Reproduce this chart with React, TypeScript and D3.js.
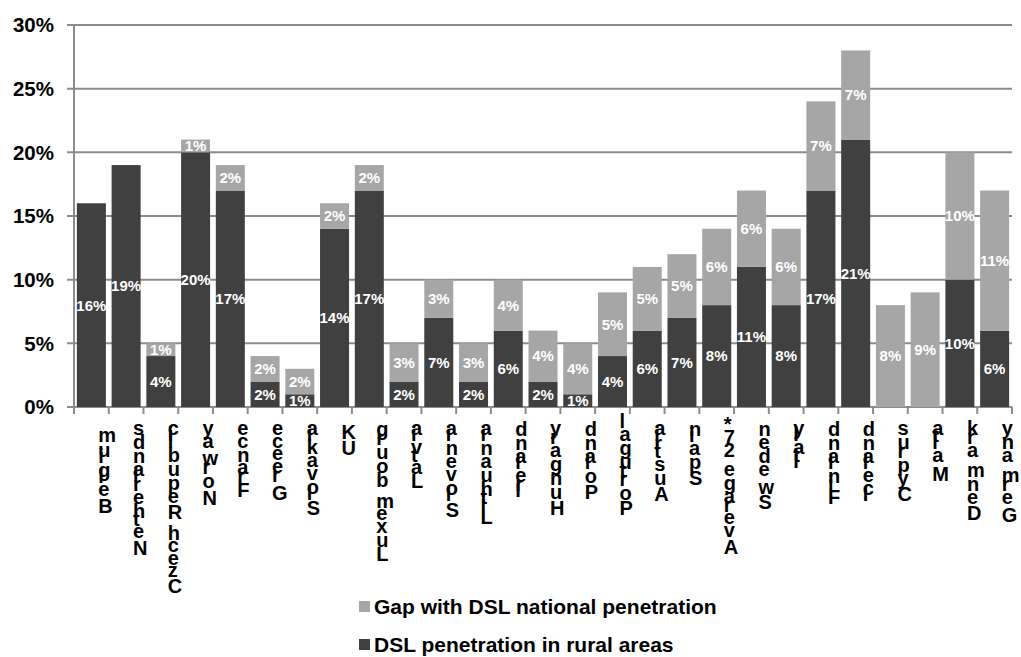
import React, { useEffect, useRef } from 'react';
import * as d3 from 'd3';

// Chart data
const countries = [
  'Belgium', 'Netherlands', 'Czech Republic', 'Norway', 'France', 'Greece', 'Slovakia',
  'UK', 'Luxembourg', 'Latvia', 'Slovenia', 'Lithuania', 'Ireland', 'Hungary', 'Poland',
  'Portugal', 'Austria', 'Spain', 'Average 27*', 'Sweden', 'Italy', 'Finland', 'Iceland',
  'Cyprus', 'Malta', 'Denmark', 'Germany',
];
const ruralPenetration = [16, 19, 4, 20, 17, 2, 1, 14, 17, 2, 7, 2, 6, 2, 1, 4, 6, 7, 8, 11, 8, 17, 21, 0, 0, 10, 6];
const nationalGap = [0, 0, 1, 1, 2, 2, 2, 2, 2, 3, 3, 3, 4, 4, 4, 5, 5, 5, 6, 6, 6, 7, 7, 8, 9, 10, 11];
const yTicks = [0, 5, 10, 15, 20, 25, 30];
const seriesNames = ['Gap with DSL national penetration', 'DSL penetration in rural areas'];

const FONT = "Arial, 'Liberation Sans', Helvetica, sans-serif";
const DARK = '#404040';
const LIGHT = '#a6a6a6';
const GRID = '#8c8c8c';

const App: React.FC = () => {
  const svgRef = useRef<SVGSVGElement>(null);

  useEffect(() => {
    if (!svgRef.current) return;
    const svg = d3.select(svgRef.current);
    svg.selectAll('*').remove();

    const width = 1021;
    const height = 657;
    const left = 74, right = 1012, top = 25, bottom = 407;

    svg.attr('width', width).attr('height', height);
    svg.append('rect').attr('width', width).attr('height', height).style('fill', '#fff');

    const x = d3.scaleBand<string>()
      .domain(countries)
      .range([left, right])
      .paddingInner(0.165)
      .paddingOuter(0.0825);

    const y = d3.scaleLinear().domain([0, 30]).range([bottom, top]);

    // gridlines + y tick marks
    svg.append('g')
      .selectAll('line')
      .data(yTicks)
      .enter().append('line')
      .attr('x1', left - 7)
      .attr('x2', right)
      .attr('y1', d => y(d))
      .attr('y2', d => y(d))
      .style('stroke', GRID)
      .style('stroke-width', 2);

    // y tick labels
    svg.append('g')
      .selectAll('text')
      .data(yTicks)
      .enter().append('text')
      .attr('x', 54)
      .attr('y', d => y(d))
      .attr('dy', '0.36em')
      .attr('text-anchor', 'end')
      .style('font-family', FONT)
      .style('font-size', '20.5px')
      .style('font-weight', 'bold')
      .style('fill', '#000')
      .text(d => `${d}%`);

    // stacked bars
    const rows = countries.map((name, i) => ({
      name,
      rural: ruralPenetration[i],
      gap: nationalGap[i],
    }));

    const segs = rows.flatMap(r => [
      { name: r.name, y0: 0, y1: r.rural, v: r.rural, color: DARK },
      { name: r.name, y0: r.rural, y1: r.rural + r.gap, v: r.gap, color: LIGHT },
    ]).filter(s => s.v > 0);

    const bars = svg.append('g');
    bars.selectAll('rect')
      .data(segs)
      .enter().append('rect')
      .attr('x', d => x(d.name)!)
      .attr('width', x.bandwidth())
      .attr('y', d => y(d.y1))
      .attr('height', d => y(d.y0) - y(d.y1))
      .style('fill', d => d.color);

    bars.selectAll('text')
      .data(segs)
      .enter().append('text')
      .attr('x', d => x(d.name)! + x.bandwidth() / 2)
      .attr('y', d => y((d.y0 + d.y1) / 2))
      .attr('dy', '0.36em')
      .attr('text-anchor', 'middle')
      .style('font-family', FONT)
      .style('font-size', '15px')
      .style('font-weight', 'bold')
      .style('fill', '#fff')
      .text(d => `${d.v}%`);

    // y axis line
    svg.append('line')
      .attr('x1', left).attr('x2', left)
      .attr('y1', top).attr('y2', bottom + 7)
      .style('stroke', GRID)
      .style('stroke-width', 2);

    // x tick marks at band boundaries
    const step = x.step();
    const boundaries = d3.range(countries.length + 1).map(i => left + i * step);
    svg.append('g')
      .selectAll('line')
      .data(boundaries)
      .enter().append('line')
      .attr('x1', d => d).attr('x2', d => d)
      .attr('y1', bottom).attr('y2', bottom + 7)
      .style('stroke', GRID)
      .style('stroke-width', 2);

    // x labels: upright glyphs stacked bottom-to-top (reversed), like the original
    const ctx = document.createElement('canvas').getContext('2d')!;
    ctx.font = `bold 23px ${FONT}`;
    const labelTop = 422;

    const xLabels = svg.append('g');
    countries.forEach(name => {
      const cx = x(name)! + x.bandwidth() / 2;
      const chars = Array.from(name).reverse();
      let pos = labelTop;
      const g = xLabels.append('g');
      chars.forEach(ch => {
        pos += ctx.measureText(ch).width;
        if (ch === ' ') return;
        g.append('text')
          .attr('x', cx + 7)
          .attr('y', pos)
          .style('font-family', FONT)
          .style('font-size', '20px')
          .style('font-weight', 'bold')
          .style('fill', '#000')
          .text(ch);
      });
    });

    // legend
    const legend = svg.append('g');
    const legendItems = legend.selectAll('g')
      .data(seriesNames)
      .enter().append('g')
      .attr('transform', (_, i) => `translate(359, ${601 + i * 38})`);

    legendItems.append('rect')
      .attr('width', 11)
      .attr('height', 11)
      .style('fill', (_, i) => (i === 0 ? LIGHT : DARK));

    legendItems.append('text')
      .attr('x', 15)
      .attr('y', 13)
      .style('font-family', FONT)
      .style('font-size', '21px')
      .style('font-weight', 'bold')
      .style('fill', '#000')
      .text(d => d);
  }, []);

  return (
    <div style={{ position: 'absolute', left: 0, top: 0 }}>
      <svg ref={svgRef} style={{ display: 'block' }}></svg>
    </div>
  );
};

export default App;
